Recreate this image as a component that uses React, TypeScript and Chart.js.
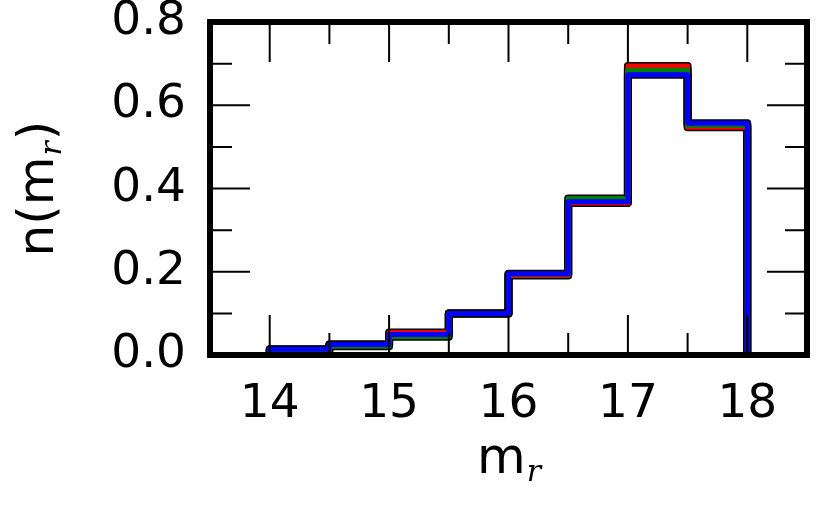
import React, { useEffect, useRef } from 'react';
import { Chart, registerables } from 'chart.js';

Chart.register(...registerables);

// Histogram bin edges (m_r) and normalised counts n(m_r) for each sample
const binEdges = [14, 14.5, 15, 15.5, 16, 16.5, 17, 17.5, 18];
const redValues = [0.013, 0.025, 0.054, 0.1, 0.191, 0.365, 0.694, 0.547];
const greenValues = [0.011, 0.021, 0.044, 0.1, 0.194, 0.376, 0.684, 0.552];
const blueValues = [0.014, 0.025, 0.049, 0.1, 0.195, 0.368, 0.673, 0.557];

const xMajorTicks = [14, 15, 16, 17, 18];
const xMinorTicks = [13.5, 14.5, 15.5, 16.5, 17.5, 18.5];
const yMajorTicks = [0, 0.2, 0.4, 0.6, 0.8];
const yMinorTicks = [0.1, 0.3, 0.5, 0.7];

const X_MIN = 13.5;
const X_MAX = 18.5;
const Y_MIN = 0;
const Y_MAX = 0.8;

const TITLE_FONT = '50px "DejaVu Sans"';
const SUB_FONT = 'italic 30px "DejaVu Serif"';

function stepPoints(values: number[]) {
  const pts: { x: number; y: number }[] = [{ x: binEdges[0], y: 0 }];
  values.forEach((v, i) => pts.push({ x: binEdges[i + 1], y: v }));
  pts.push({ x: binEdges[binEdges.length - 1], y: 0 });
  return pts;
}

const framePlugin = {
  id: 'mplFrame',
  afterDatasetsDraw(chart: any) {
    const { ctx, chartArea, scales } = chart;
    const { left, right, top, bottom } = chartArea;
    const xs = scales.x;
    const ys = scales.y;
    ctx.save();
    ctx.strokeStyle = '#000';
    ctx.lineWidth = 2;
    ctx.lineCap = 'butt';
    const drawX = (v: number, len: number) => {
      const px = xs.getPixelForValue(v);
      ctx.beginPath();
      ctx.moveTo(px, bottom);
      ctx.lineTo(px, bottom - len);
      ctx.moveTo(px, top);
      ctx.lineTo(px, top + len);
      ctx.stroke();
    };
    const drawY = (v: number, len: number) => {
      const py = ys.getPixelForValue(v);
      ctx.beginPath();
      ctx.moveTo(left, py);
      ctx.lineTo(left + len, py);
      ctx.moveTo(right, py);
      ctx.lineTo(right - len, py);
      ctx.stroke();
    };
    xMajorTicks.forEach((v) => drawX(v, 40));
    xMinorTicks.forEach((v) => drawX(v, 22));
    yMajorTicks.forEach((v) => drawY(v, 40));
    yMinorTicks.forEach((v) => drawY(v, 22));
    ctx.lineWidth = 6;
    ctx.lineJoin = 'miter';
    ctx.strokeRect(left, top, right - left, bottom - top);
    ctx.restore();
  },
  afterDraw(chart: any) {
    const { ctx, chartArea } = chart;
    const cx = (chartArea.left + chartArea.right) / 2;
    const cy = (chartArea.top + chartArea.bottom) / 2;
    ctx.save();
    ctx.fillStyle = '#000';
    ctx.textBaseline = 'alphabetic';
    ctx.textAlign = 'left';
    // x title: m_r
    ctx.font = TITLE_FONT;
    const mW = ctx.measureText('m').width;
    ctx.font = SUB_FONT;
    const rW = ctx.measureText('r').width;
    const x0 = cx - (mW + rW) / 2;
    ctx.font = TITLE_FONT;
    ctx.fillText('m', x0, 473);
    ctx.font = SUB_FONT;
    ctx.fillText('r', x0 + mW + 1, 481);
    // y title: n(m_r)
    ctx.translate(53, cy);
    ctx.rotate(-Math.PI / 2);
    ctx.font = TITLE_FONT;
    const aW = ctx.measureText('n(m').width;
    const pW = ctx.measureText(')').width;
    ctx.font = SUB_FONT;
    const r2W = ctx.measureText('r').width;
    const total = aW + r2W + 2 + pW;
    let lx = -total / 2;
    ctx.font = TITLE_FONT;
    ctx.fillText('n(m', lx, 0);
    lx += aW + 1;
    ctx.font = SUB_FONT;
    ctx.fillText('r', lx, 8);
    lx += r2W + 1;
    ctx.font = TITLE_FONT;
    ctx.fillText(')', lx, 0);
    ctx.restore();
  },
};

function outline(values: number[], order: number) {
  return {
    data: stepPoints(values),
    borderColor: '#000000',
    borderWidth: 8,
    stepped: 'after' as const,
    pointRadius: 0,
    fill: false,
    borderJoinStyle: 'round' as const,
    borderCapStyle: 'round' as const,
    order,
  };
}

function coloured(values: number[], color: string, order: number) {
  return {
    data: stepPoints(values),
    borderColor: color,
    borderWidth: 5,
    stepped: 'after' as const,
    pointRadius: 0,
    fill: false,
    borderJoinStyle: 'round' as const,
    borderCapStyle: 'round' as const,
    order,
  };
}

export default function App() {
  const canvasRef = useRef<HTMLCanvasElement | null>(null);

  useEffect(() => {
    const canvas = canvasRef.current;
    if (!canvas) return;
    const chart = new Chart(canvas, {
      type: 'line',
      data: {
        datasets: [
          outline(redValues, 12),
          outline(greenValues, 11),
          outline(blueValues, 10),
          coloured(redValues, '#ff0000', 3),
          coloured(greenValues, '#008000', 2),
          coloured(blueValues, '#0000ff', 1),
        ] as any,
      },
      options: {
        animation: false,
        responsive: false,
        maintainAspectRatio: false,
        devicePixelRatio: 1,
        layout: { padding: { top: 22, right: 23, left: 0, bottom: 0 } },
        plugins: {
          legend: { display: false },
          tooltip: { enabled: false },
        },
        scales: {
          x: {
            type: 'linear',
            min: X_MIN,
            max: X_MAX,
            grid: { display: false, drawTicks: false },
            border: { display: false },
            afterBuildTicks: (scale: any) => {
              scale.ticks = xMajorTicks.map((v) => ({ value: v }));
            },
            afterFit: (scale: any) => {
              scale.height = 155;
              scale.paddingLeft = 0;
              scale.paddingRight = 0;
              scale.paddingTop = 0;
              scale.paddingBottom = 0;
            },
            ticks: {
              font: { family: 'DejaVu Sans', size: 47 },
              color: '#000',
              padding: 22,
              maxRotation: 0,
              autoSkip: false,
              callback: (v: any) => String(v),
            },
          },
          y: {
            type: 'linear',
            min: Y_MIN,
            max: Y_MAX,
            grid: { display: false, drawTicks: false },
            border: { display: false },
            afterBuildTicks: (scale: any) => {
              scale.ticks = yMajorTicks.map((v) => ({ value: v }));
            },
            afterFit: (scale: any) => {
              scale.width = 210;
              scale.paddingLeft = 0;
              scale.paddingRight = 0;
              scale.paddingTop = 0;
              scale.paddingBottom = 0;
            },
            ticks: {
              font: { family: 'DejaVu Sans', size: 47 },
              color: '#000',
              padding: 24,
              autoSkip: false,
              callback: (v: any) => Number(v).toFixed(1),
            },
          },
        },
      },
      plugins: [framePlugin],
    });
    return () => chart.destroy();
  }, []);

  return (
    <div style={{ position: 'fixed', left: 0, top: 0, width: 830, height: 510, background: '#fff' }}>
      <canvas ref={canvasRef} width={830} height={510} style={{ display: 'block' }} />
    </div>
  );
}
